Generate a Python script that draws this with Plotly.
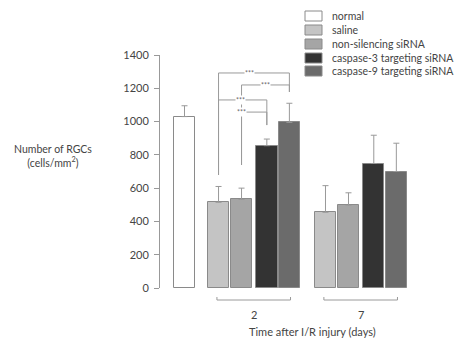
import plotly.graph_objects as go

# ---------------- data ----------------
series_names = ["normal", "saline", "non-silencing siRNA",
                "caspase-3 targeting siRNA", "caspase-9 targeting siRNA"]
group_labels = ["2", "7"]
normal_value = [1030]
normal_error = [65]
day2_values = [515, 532, 855, 995]
day2_errors = [95, 68, 40, 115]
day7_values = [455, 497, 748, 700]
day7_errors = [160, 75, 170, 170]
y_ticks = [0, 200, 400, 600, 800, 1000, 1200, 1400]
sig_labels = ["***", "***", "***", "***"]

# ---------------- layout constants ----------------
W, H = 467, 344
ML, MR, MT, MB = 160, 47, 55, 56
PW, PH = W - ML - MR, H - MT - MB
UNIT = 23.0           # px per x unit
X0PX = 184.5          # pixel of x=0 (normal bar centre)
xr = [(ML - X0PX) / UNIT, (W - MR - X0PX) / UNIT]

def px2paper_x(px):
    return (px - ML) / PW

def px2paper_y(py):
    return (H - MB - py) / PH

colors = ["#ffffff", "#c4c4c4", "#a5a5a5", "#333333", "#6b6b6b"]
edge = "#8a8a8a"
txt = "#444444"
FONT = "Lato"

normal_pos = 0.0
offsets = [0.0, 1.0, 2.1, 3.08]
g_starts = [1.48, 6.13]
bar_w = 0.93

fig = go.Figure()

fig.add_trace(go.Bar(
    x=[normal_pos], y=normal_value, width=bar_w,
    marker=dict(color=colors[0], line=dict(color=edge, width=1)),
    error_y=dict(type="data", array=normal_error, arrayminus=[0] * len(normal_error),
                 symmetric=False, color="#999999", thickness=1, width=3),
    showlegend=False, hoverinfo="skip"))

for i in range(4):
    xs = [g_starts[0] + offsets[i], g_starts[1] + offsets[i]]
    fig.add_trace(go.Bar(
        x=xs, y=[day2_values[i], day7_values[i]], width=bar_w,
        marker=dict(color=colors[i + 1], line=dict(color=edge, width=1)),
        error_y=dict(type="data", array=[day2_errors[i], day7_errors[i]],
                     arrayminus=[0, 0], symmetric=False,
                     color="#999999", thickness=1, width=3),
        showlegend=False, hoverinfo="skip"))

shapes = []
annotations = []
lc = "#9a9a9a"

d2x = [g_starts[0] + o for o in offsets]
brackets = [
    (0, 3, 1292, 679, 1178, -0.2),
    (1, 3, 1220, 739, 1178, 0.0),
    (0, 2, 1130, 679, 979, -0.1),
    (1, 2, 1057, 739, 979, -0.55),
]
for k, (a, b, hgt, la, lb, sh) in enumerate(brackets):
    xa, xb = d2x[a], d2x[b]
    shapes.append(dict(type="path", xref="x", yref="y",
                       path=f"M {xa} {la} L {xa} {hgt} L {xb} {hgt} L {xb} {lb}",
                       line=dict(color=lc, width=1)))
    annotations.append(dict(x=(xa + xb) / 2 + sh, y=hgt, xref="x", yref="y",
                            xanchor="center", yanchor="middle",
                            text=sig_labels[k], showarrow=False,
                            font=dict(size=7, color="#666", family=FONT),
                            bgcolor="white", borderpad=0))

ybr = px2paper_y(300)
for g in range(2):
    xa = g_starts[g] - 0.07
    xb = g_starts[g] + offsets[-1] + 0.05
    yb2 = px2paper_y(297)
    shapes.append(dict(type="path", xref="x", yref="paper",
                       path=f"M {xa} {yb2} L {xa} {ybr} L {xb} {ybr} L {xb} {yb2}",
                       line=dict(color=lc, width=1)))
    annotations.append(dict(x=(xa + xb) / 2, y=px2paper_y(314), xref="x", yref="paper",
                            xanchor="center", yanchor="middle",
                            text=group_labels[g], showarrow=False,
                            font=dict(size=11, color=txt, family=FONT)))

annotations.append(dict(x=px2paper_x(312), y=px2paper_y(331), xref="paper", yref="paper",
                        xanchor="center", yanchor="middle",
                        text="Time after I/R injury (days)", showarrow=False,
                        font=dict(size=11, color=txt, family=FONT)))
annotations.append(dict(x=px2paper_x(53), y=px2paper_y(156), xref="paper", yref="paper",
                        xanchor="center", yanchor="middle",
                        text="Number of RGCs<br>(cells/mm<sup>2</sup>)", showarrow=False,
                        align="center",
                        font=dict(size=10.5, color=txt, family=FONT)))

rows = [16, 30, 44, 58, 71]
for i, name in enumerate(series_names):
    cy = rows[i]
    shapes.append(dict(type="rect", xref="paper", yref="paper",
                       x0=px2paper_x(305), x1=px2paper_x(322),
                       y0=px2paper_y(cy + 5), y1=px2paper_y(cy - 5),
                       fillcolor=colors[i], line=dict(color=edge, width=1)))
    annotations.append(dict(x=px2paper_x(330), y=px2paper_y(cy), xref="paper", yref="paper",
                            xanchor="left", yanchor="middle", text=name, showarrow=False,
                            font=dict(size=10.5, color=txt, family=FONT)))

fig.update_layout(
    width=W, height=H,
    margin=dict(l=ML, r=MR, t=MT, b=MB, pad=0),
    paper_bgcolor="white", plot_bgcolor="white",
    barmode="overlay", bargap=0,
    shapes=shapes, annotations=annotations,
    hovermode=False,
    xaxis=dict(range=xr, showline=False, showgrid=False, zeroline=False,
               showticklabels=False, ticks=""),
    yaxis=dict(range=[0, 1400], tickvals=y_ticks, showline=True, linecolor="#999999",
               linewidth=1, ticks="outside", ticklen=5, tickcolor="#999999",
               ticklabelstandoff=3,
               showgrid=False, zeroline=False,
               tickfont=dict(size=11, color=txt, family=FONT)),
    font=dict(family=FONT, color=txt),
)

fig.write_html("out.html", config={"displayModeBar": False},
               post_script="document.body.style.margin='0';document.body.style.overflow='hidden';")
